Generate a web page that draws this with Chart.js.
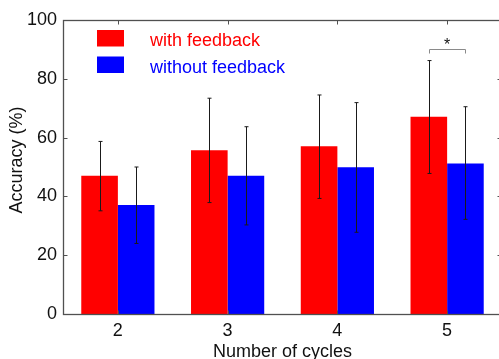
<!DOCTYPE html>
<html>
<head>
<meta charset="utf-8">
<script src="https://cdn.jsdelivr.net/npm/chart.js@4.4.0/dist/chart.umd.min.js"></script>
<style>
  html, body { margin: 0; padding: 0; background: #fff; overflow: hidden; }
  #wrap { width: 503px; height: 359px; }
  canvas { display: block; }
</style>
</head>
<body>
<div id="wrap"><canvas id="chart" width="503" height="359"></canvas></div>
<script>
const cycles = ['2', '3', '4', '5'];
const withFeedback = [47.0, 55.7, 57.1, 67.1];
const withoutFeedback = [37.1, 47.0, 49.9, 51.2];
const withErrLow = [35.1, 37.9, 39.3, 47.8];
const withErrHigh = [58.7, 73.4, 74.5, 86.2];
const withoutErrLow = [24.0, 30.3, 27.8, 32.2];
const withoutErrHigh = [50.0, 63.7, 71.9, 70.5];
const yTicks = [0, 20, 40, 60, 80, 100];
const sigCycle = '5';
const sigLevel = 90;
const sigDrop = 88.6;
const sigStarLevel = 92.7;

const FONT = "'Liberation Sans', Arial, Helvetica, sans-serif";
const RED = '#ff0000';
const BLUE = '#0000ff';

const errors = [
  { low: withErrLow, high: withErrHigh },
  { low: withoutErrLow, high: withoutErrHigh },
];

// error bars, legend, significance bracket and the boxed frame
const extras = {
  id: 'extras',
  afterDatasetsDraw(chart) {
    const { ctx, chartArea: a } = chart;
    const y = chart.scales.y;
    const x = chart.scales.x;

    // error bars
    ctx.save();
    ctx.strokeStyle = '#1a1a1a';
    ctx.lineWidth = 1;
    errors.forEach((e, di) => {
      chart.getDatasetMeta(di).data.forEach((bar, i) => {
        const bx = Math.round(bar.x) + 0.5;
        const yt = y.getPixelForValue(e.high[i]);
        const yb = y.getPixelForValue(e.low[i]);
        ctx.beginPath();
        ctx.moveTo(bx, yt); ctx.lineTo(bx, yb);
        ctx.moveTo(bx - 2, yt); ctx.lineTo(bx + 2, yt);
        ctx.moveTo(bx - 2, yb); ctx.lineTo(bx + 2, yb);
        ctx.stroke();
      });
    });

    // significance bracket
    const si = cycles.indexOf(sigCycle);
    const x1 = Math.round(chart.getDatasetMeta(0).data[si].x) + 0.5;
    const x2 = Math.round(chart.getDatasetMeta(1).data[si].x) + 0.5;
    const yl = Math.round(y.getPixelForValue(sigLevel)) + 0.5;
    const yd = y.getPixelForValue(sigDrop);
    ctx.strokeStyle = '#8a8a8a';
    ctx.beginPath();
    ctx.moveTo(x1, yd); ctx.lineTo(x1, yl); ctx.lineTo(x2, yl); ctx.lineTo(x2, yd);
    ctx.stroke();
    ctx.fillStyle = '#111';
    ctx.font = '16px ' + FONT;
    ctx.textAlign = 'center';
    ctx.textBaseline = 'middle';
    ctx.fillText('*', x.getPixelForValue(si), y.getPixelForValue(sigStarLevel) + 4);

    // legend
    ctx.font = '18px ' + FONT;
    ctx.textAlign = 'left';
    ctx.textBaseline = 'alphabetic';
    chart.data.datasets.forEach((ds, i) => {
      const top = a.top + 10 + i * 26.5;
      ctx.fillStyle = ds.backgroundColor;
      ctx.fillRect(a.left + 34, top, 27, 16.5);
      ctx.fillText(ds.label, a.left + 87, top + 16);
    });

    // y axis title
    ctx.fillStyle = '#111';
    ctx.translate(17, (a.top + a.bottom) / 2 - 7);
    ctx.rotate(-Math.PI / 2);
    ctx.textAlign = 'center';
    ctx.textBaseline = 'middle';
    ctx.fillText('Accuracy (%)', 0, 0);
    ctx.restore();
  },
  afterDraw(chart) {
    const { ctx, chartArea: a } = chart;
    const y = chart.scales.y;
    const x = chart.scales.x;
    const L = Math.round(a.left) + 0.5, R = Math.round(a.right) - 0.5;
    const T = Math.round(a.top) + 0.5, B = Math.round(a.bottom) + 0.5;
    ctx.save();
    ctx.strokeStyle = '#505050';
    ctx.lineWidth = 1.3;
    ctx.strokeRect(L, T, R - L, B - T);
    ctx.lineWidth = 1;
    ctx.beginPath();
    yTicks.forEach(v => {
      const py = Math.round(y.getPixelForValue(v)) + 0.5;
      ctx.moveTo(L, py); ctx.lineTo(L + 4, py);
      ctx.moveTo(R, py); ctx.lineTo(R - 4, py);
    });
    cycles.forEach((c, i) => {
      const px = Math.round(x.getPixelForValue(i)) + 0.5;
      ctx.moveTo(px, T); ctx.lineTo(px, T + 4);
      ctx.moveTo(px, B); ctx.lineTo(px, B - 4);
    });
    ctx.stroke();
    ctx.restore();
  }
};

new Chart(document.getElementById('chart').getContext('2d'), {
  type: 'bar',
  data: {
    labels: cycles,
    datasets: [
      { label: 'with feedback', data: withFeedback, backgroundColor: RED, borderWidth: 0 },
      { label: 'without feedback', data: withoutFeedback, backgroundColor: BLUE, borderWidth: 0 },
    ],
  },
  options: {
    responsive: false,
    animation: false,
    layout: { padding: { top: 20, right: 1, left: 0, bottom: 0 } },
    datasets: { bar: { categoryPercentage: 0.667, barPercentage: 1.0 } },
    plugins: { legend: { display: false }, tooltip: { enabled: false } },
    scales: {
      x: {
        grid: { display: false, drawTicks: false },
        border: { display: false },
        ticks: { color: '#111', font: { size: 18, family: FONT }, padding: 6 },
        title: { display: true, text: 'Number of cycles', color: '#111', font: { size: 18, family: FONT, lineHeight: 0.8 }, padding: { top: 0, bottom: 0 } },
        afterFit(scale) { scale.height = 45; },
      },
      y: {
        min: 0,
        max: 100,
        grid: { display: false, drawTicks: false },
        border: { display: false },
        afterBuildTicks(scale) { scale.ticks = yTicks.map(v => ({ value: v })); },
        ticks: { color: '#111', font: { size: 18, family: FONT }, padding: 6 },
        afterFit(scale) { scale.width = 63; },
      },
    },
  },
  plugins: [extras],
});
</script>
</body>
</html>
